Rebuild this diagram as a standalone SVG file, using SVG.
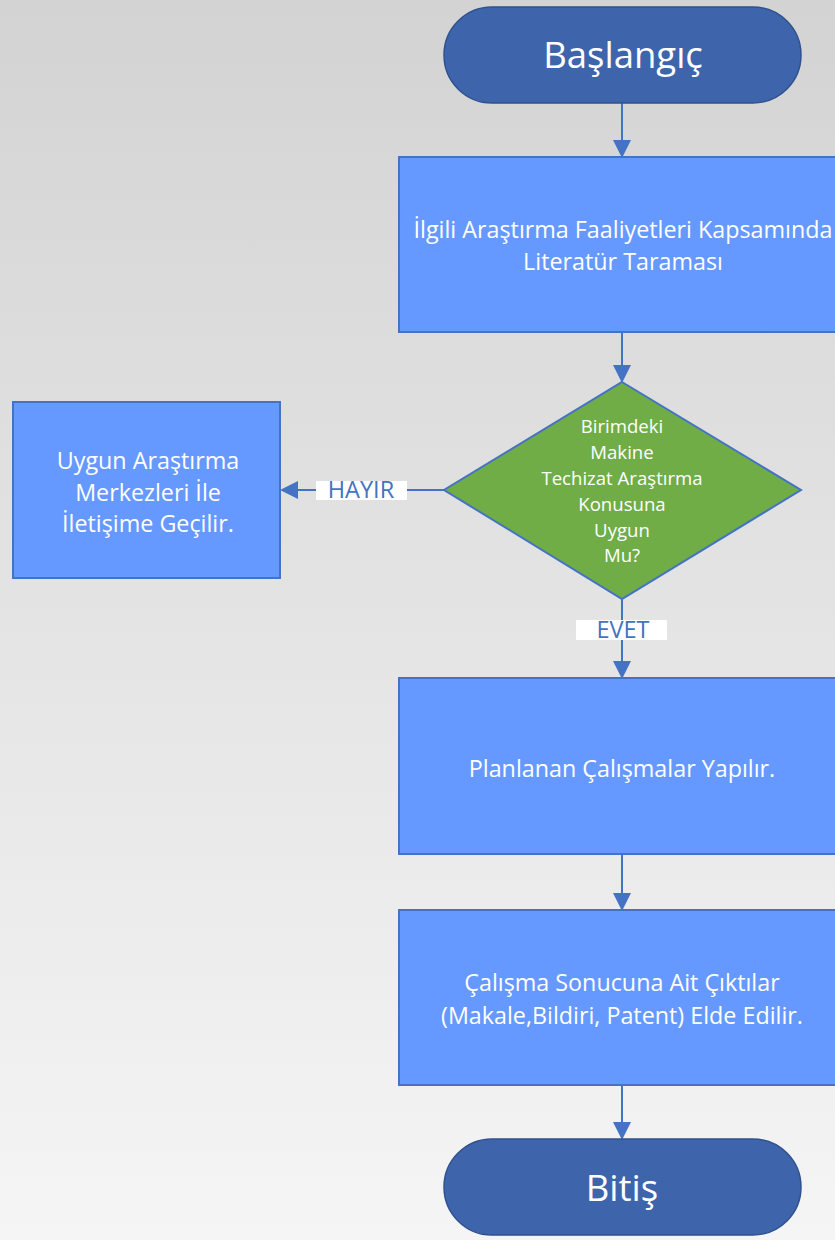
<svg xmlns="http://www.w3.org/2000/svg" width="835" height="1240" viewBox="0 0 835 1240">
<defs>
<linearGradient id="bg" x1="0" y1="0" x2="0" y2="1">
<stop offset="0" stop-color="#d3d3d3"/>
<stop offset="1" stop-color="#f5f5f5"/>
</linearGradient>
<marker id="ah" markerWidth="9" markerHeight="9" refX="8" refY="4.5" orient="auto" markerUnits="strokeWidth">
<path d="M0,0 L9,4.5 L0,9 z" fill="#4472c4"/>
</marker>
<style>
.term{fill:#3e64ab;stroke:#2f528f;stroke-width:1.5}
.box{fill:#6699ff;stroke:#4472c4;stroke-width:2}
.dec{fill:#70ad47;stroke:#4472c4;stroke-width:2}
.t{font-family:"Open Sans","Liberation Sans",sans-serif;fill:#ffffff;text-anchor:middle}
.big{font-size:36.5px}
.mid{font-size:23.3px}
.sm{font-size:18.6px}
.conn{stroke:#4472c4;stroke-width:2;fill:none;marker-end:url(#ah)}
.lblbg{fill:#ffffff}
.lbl{font-family:"Open Sans","Liberation Sans",sans-serif;font-size:23.5px;fill:#4472c4;text-anchor:middle}
</style>
</defs>
<rect x="0" y="0" width="835" height="1240" fill="url(#bg)"/>

<g id="connectors">
<line class="conn" x1="622" y1="103" x2="622" y2="156"/>
<line class="conn" x1="622" y1="333" x2="622" y2="381"/>
<line class="conn" x1="444" y1="490" x2="282" y2="490"/>
<line class="conn" x1="622" y1="599" x2="622" y2="677"/>
<line class="conn" x1="622" y1="855" x2="622" y2="909"/>
<line class="conn" x1="622" y1="1086" x2="622" y2="1138"/>
<rect class="lblbg" x="316" y="481" width="91" height="19"/>
<text class="lbl" x="361" y="498">HAYIR</text>
<rect class="lblbg" x="576" y="620" width="91" height="20"/>
<text class="lbl" x="623" y="638">EVET</text>
</g>

<g id="start">
<rect class="term" x="444" y="7" width="357" height="96" rx="48" ry="48"/>
<text class="t big" x="623" y="68">Başlangıç</text>
</g>

<g id="literature">
<rect class="box" x="399" y="157" width="440" height="175"/>
<text class="t mid" x="623" y="238">İlgili Araştırma Faaliyetleri Kapsamında</text>
<text class="t mid" x="623" y="270">Literatür Taraması</text>
</g>

<g id="decision">
<polygon class="dec" points="622,382 801,490 622,599 444,490"/>
<text class="t sm" x="622" y="433">Birimdeki</text>
<text class="t sm" x="622" y="459">Makine</text>
<text class="t sm" x="622" y="485">Techizat Araştırma</text>
<text class="t sm" x="622" y="511">Konusuna</text>
<text class="t sm" x="622" y="537">Uygun</text>
<text class="t sm" x="622" y="562">Mu?</text>
</g>

<g id="contact">
<rect class="box" x="13" y="402" width="267" height="176"/>
<text class="t mid" x="148" y="469">Uygun Araştırma</text>
<text class="t mid" x="148" y="501">Merkezleri İle</text>
<text class="t mid" x="148" y="532">İletişime Geçilir.</text>
</g>

<g id="planned">
<rect class="box" x="399" y="678" width="440" height="176"/>
<text class="t mid" x="622" y="777">Planlanan Çalışmalar Yapılır.</text>
</g>

<g id="outputs">
<rect class="box" x="399" y="910" width="440" height="175"/>
<text class="t mid" x="622" y="991">Çalışma Sonucuna Ait Çıktılar</text>
<text class="t mid" x="622" y="1024">(Makale,Bildiri, Patent) Elde Edilir.</text>
</g>

<g id="end">
<rect class="term" x="444" y="1139" width="357" height="96" rx="48" ry="48"/>
<text class="t big" x="622" y="1201">Bitiş</text>
</g>
</svg>
